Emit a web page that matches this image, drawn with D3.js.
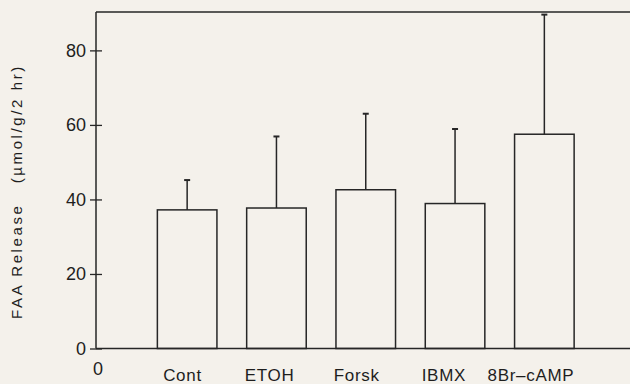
<!DOCTYPE html>
<html>
<head>
<meta charset="utf-8">
<script src="https://cdn.jsdelivr.net/npm/d3@7"></script>
<style>
  html, body { margin: 0; padding: 0; background: #f4f1eb; }
  svg { display: block; }
  text { font-family: "Liberation Sans", Arial, Helvetica, sans-serif; fill: #1e1e1e; }
</style>
</head>
<body>
<svg id="chart" width="630" height="384"></svg>
<script>
// Treatment groups and free amino acid release (mean and SE)
const categories = ["Cont", "ETOH", "Forsk", "IBMX", "8Br\u2013cAMP"];
const means = [37.2, 37.7, 42.6, 38.9, 57.5];
const errors = [8.0, 19.2, 20.4, 20.0, 32.1];
const yTicks = [0, 20, 40, 60, 80];
const yTitle = "FAA Release   (\u00b5mol/g/2 hr)";

const plotLeft = 96, plotRight = 630, plotTop = 12, plotBottom = 348.5;
const ink = "#262626";

const svg = d3.select("#chart");

const y = d3.scaleLinear().domain([0, 90.3]).range([plotBottom, plotTop]);
const x = d3.scaleBand()
  .domain(categories)
  .range([142.5, 589])
  .paddingInner(0.333)
  .paddingOuter(0.1665);
// category names sit on their own evenly spaced positions
const xLabel = d3.scalePoint().domain(categories).range([182.5, 531]);

// frame: top and baseline run to the right edge, no right border
svg.append("line").attr("x1", plotLeft).attr("x2", plotRight).attr("y1", plotTop).attr("y2", plotTop)
  .attr("stroke", ink).attr("stroke-width", 1.5);
svg.append("line").attr("x1", plotLeft).attr("x2", plotRight).attr("y1", plotBottom).attr("y2", plotBottom)
  .attr("stroke", ink).attr("stroke-width", 1.5);
svg.append("line").attr("x1", plotLeft).attr("x2", plotLeft).attr("y1", plotTop).attr("y2", plotBottom)
  .attr("stroke", ink).attr("stroke-width", 1.5);

// y axis with ticks crossing the axis line
const yAxis = svg.append("g")
  .attr("transform", `translate(${plotLeft},0)`)
  .call(d3.axisLeft(y).tickValues(yTicks).tickSize(6).tickPadding(4));
yAxis.select(".domain").remove();
yAxis.selectAll(".tick line").attr("x1", -6).attr("x2", 6)
  .attr("stroke", ink).attr("stroke-width", 1.3);
yAxis.selectAll(".tick text")
  .style("font-family", "'Liberation Sans', Arial, sans-serif")
  .style("font-size", "18px").attr("fill", "#1e1e1e");

// origin label on the x axis
svg.append("text").attr("x", plotLeft + 2).attr("y", 375)
  .attr("text-anchor", "middle").style("font-size", "18px").text("0");

// bars
svg.append("g").selectAll("rect")
  .data(categories)
  .join("rect")
  .attr("x", d => x(d))
  .attr("width", x.bandwidth())
  .attr("y", (d, i) => y(means[i]))
  .attr("height", (d, i) => y(0) - y(means[i]))
  .attr("fill", "none")
  .attr("stroke", ink)
  .attr("stroke-width", 1.5);

// upper error bars with small caps
const eb = svg.append("g").selectAll("g")
  .data(categories)
  .join("g");
eb.append("line")
  .attr("x1", d => x(d) + x.bandwidth() / 2)
  .attr("x2", d => x(d) + x.bandwidth() / 2)
  .attr("y1", (d, i) => y(means[i]))
  .attr("y2", (d, i) => y(means[i] + errors[i]))
  .attr("stroke", ink).attr("stroke-width", 1.5);
eb.append("line")
  .attr("x1", d => x(d) + x.bandwidth() / 2 - 3)
  .attr("x2", d => x(d) + x.bandwidth() / 2 + 3)
  .attr("y1", (d, i) => y(means[i] + errors[i]))
  .attr("y2", (d, i) => y(means[i] + errors[i]))
  .attr("stroke", ink).attr("stroke-width", 2);

// category names
svg.append("g").selectAll("text")
  .data(categories)
  .join("text")
  .attr("x", d => xLabel(d))
  .attr("y", 381)
  .attr("text-anchor", "middle")
  .style("font-size", "17px")
  .style("letter-spacing", "0.7px")
  .text(d => d);

// y axis title
svg.append("text")
  .attr("transform", "translate(21.5,191.5) rotate(-90)")
  .attr("text-anchor", "middle")
  .style("font-size", "15px")
  .style("letter-spacing", "2.6px")
  .style("white-space", "pre")
  .text(yTitle);
</script>
</body>
</html>
